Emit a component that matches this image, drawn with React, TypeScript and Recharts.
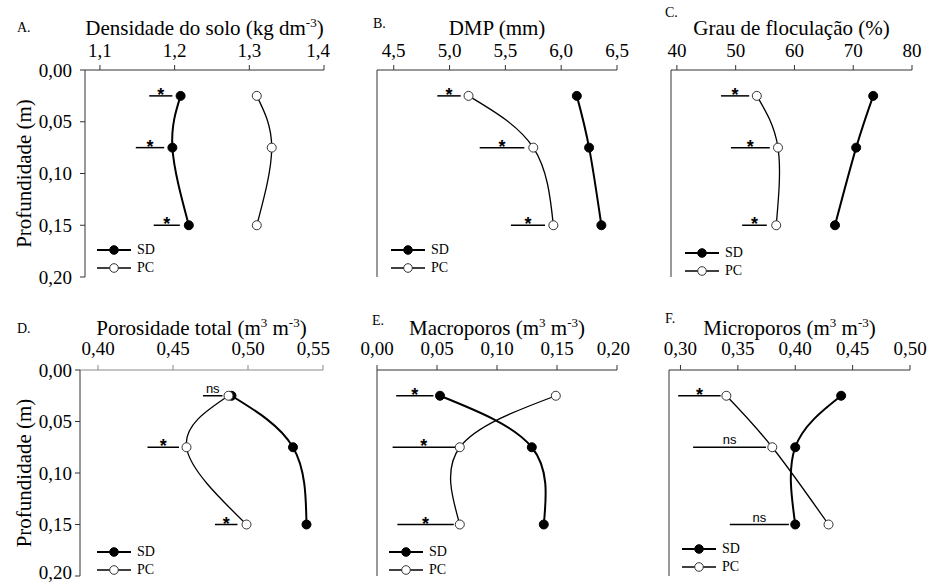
import { LineChart, Line, XAxis, YAxis, ReferenceLine, Legend } from "recharts";

const SERIF = "Liberation Serif";
const SANS = "Liberation Sans";

// profundidade (m) das camadas
const profundidades = [0.025, 0.075, 0.15];
const ticksProfundidade = [0, 0.05, 0.1, 0.15, 0.2];

// A. densidade do solo (kg dm-3)
const densidadeSD = [1.208, 1.197, 1.219];
const densidadePC = [1.31, 1.33, 1.31];
const densidadeBarras = [[1.166, 1.197], [1.148, 1.186], [1.172, 1.207]];
const densidadeSig = ["*", "*", "*"];

// B. DMP (mm)
const dmpSD = [6.14, 6.25, 6.36];
const dmpPC = [5.17, 5.75, 5.93];
const dmpBarras = [[4.89, 5.1], [5.27, 5.67], [5.55, 5.855]];
const dmpSig = ["*", "*", "*"];

// C. grau de floculação (%)
const floculacaoSD = [73.4, 70.5, 66.9];
const floculacaoPC = [53.6, 57.2, 56.9];
const floculacaoBarras = [[47.5, 52.3], [49.2, 55.8], [51.1, 55.3]];
const floculacaoSig = ["*", "*", "*"];

// D. porosidade total (m3 m-3)
const porosidadeSD = [0.489, 0.53, 0.539];
const porosidadePC = [0.487, 0.459, 0.499];
const porosidadeBarras = [[0.47, 0.483], [0.433, 0.454], [0.478, 0.493]];
const porosidadeSig = ["ns", "*", "*"];

// E. macroporos (m3 m-3)
const macroSD = [0.0525, 0.129, 0.139];
const macroPC = [0.149, 0.069, 0.069];
const macroBarras = [[0.016, 0.047], [0.013, 0.065], [0.017, 0.064]];
const macroSig = ["*", "*", "*"];

// F. microporos (m3 m-3)
const microSD = [0.44, 0.4, 0.4];
const microPC = [0.34, 0.38, 0.429];
const microBarras = [[0.298, 0.335], [0.311, 0.3745], [0.343, 0.3945]];
const microSig = ["*", "ns", "ns"];

const paineis = [
  {
    letra: "A.", titulo: [["Densidade do solo (kg dm", false], ["-3", true], [")", false]],
    sd: densidadeSD, pc: densidadePC, barras: densidadeBarras, sig: densidadeSig,
    dominio: [1.08, 1.4], ticks: [1.1, 1.2, 1.3, 1.4], casas: 1,
    left: 0, top: 0, width: 330, height: 290, eixoX: 70, eixoY: 85, right: 6, bottom: 13,
    margemY: 8, rotuloY: true, letraX: 17, letraY: 32, legX: 97, legY: 241,
  },
  {
    letra: "B.", titulo: [["DMP (mm)", false]],
    sd: dmpSD, pc: dmpPC, barras: dmpBarras, sig: dmpSig,
    dominio: [4.35, 6.5], ticks: [4.5, 5, 5.5, 6, 6.5], casas: 1,
    left: 300, top: 0, width: 330, height: 290, eixoX: 70, eixoY: 77, right: 13, bottom: 13,
    margemY: 8, rotuloY: false, letraX: 73, letraY: 28, legX: 91, legY: 241,
  },
  {
    letra: "C.", titulo: [["Grau de floculação (%)", false]],
    sd: floculacaoSD, pc: floculacaoPC, barras: floculacaoBarras, sig: floculacaoSig,
    dominio: [39, 80], ticks: [40, 50, 60, 70, 80], casas: 0,
    left: 610, top: 0, width: 319, height: 290, eixoX: 70, eixoY: 61, right: 17, bottom: 13,
    margemY: 8, rotuloY: false, letraX: 55, letraY: 17, legX: 75, legY: 244,
  },
  {
    letra: "D.", titulo: [["Porosidade total (m", false], ["3", true], [" m", false], ["-3", true], [")", false]],
    sd: porosidadeSD, pc: porosidadePC, barras: porosidadeBarras, sig: porosidadeSig,
    dominio: [0.388, 0.55], ticks: [0.4, 0.45, 0.5, 0.55], casas: 2,
    left: 0, top: 290, width: 330, height: 293, eixoX: 80, eixoY: 80, right: 7, bottom: 7,
    margemY: 3, rotuloY: true, letraX: 17, letraY: 43, legX: 97, legY: 253,
  },
  {
    letra: "E.", titulo: [["Macroporos (m", false], ["3", true], [" m", false], ["-3", true], [")", false]],
    sd: macroSD, pc: macroPC, barras: macroBarras, sig: macroSig,
    dominio: [0, 0.2], ticks: [0, 0.05, 0.1, 0.15, 0.2], casas: 2,
    left: 300, top: 290, width: 330, height: 293, eixoX: 80, eixoY: 77, right: 13, bottom: 7,
    margemY: 8, rotuloY: false, letraX: 72, letraY: 35, legX: 89, legY: 253,
  },
  {
    letra: "F.", titulo: [["Microporos (m", false], ["3", true], [" m", false], ["-3", true], [")", false]],
    sd: microSD, pc: microPC, barras: microBarras, sig: microSig,
    dominio: [0.29, 0.5], ticks: [0.3, 0.35, 0.4, 0.45, 0.5], casas: 2,
    left: 610, top: 290, width: 319, height: 293, eixoX: 80, eixoY: 59, right: 19, bottom: 7,
    margemY: 8, rotuloY: false, letraX: 55, letraY: 33, legX: 72, legY: 250,
  },
];

const virgula = (v: number, casas: number) => v.toFixed(casas).replace(".", ",");

function LegendaSeries({ payload }: any) {
  const itens = [...(payload ?? [])].sort((a: any, b: any) => (a.value === "SD" ? -1 : b.value === "SD" ? 1 : 0));
  return (
    <div style={{ fontFamily: SERIF, fontSize: 14, color: "#000" }}>
      {itens.map((item: any) => {
        const cheio = item.value === "SD";
        return (
          <div key={item.value} style={{ display: "flex", alignItems: "center", height: 18 }}>
            <svg width={34} height={12}>
              <line x1={0} y1={6} x2={34} y2={6} stroke="#000" strokeWidth={cheio ? 2 : 1.3} />
              <circle cx={17} cy={6} r={4.3} fill={cheio ? "#000" : "#fff"} stroke={cheio ? "#000" : "#333"} strokeWidth={1} />
            </svg>
            <span style={{ marginLeft: 6 }}>{item.value}</span>
          </div>
        );
      })}
    </div>
  );
}

function Painel({ cfg }: { cfg: any }) {
  const dados = profundidades.map((p, i) => ({ profundidade: p, SD: cfg.sd[i], PC: cfg.pc[i] }));

  const titulo = (props: any) => {
    const vb = props.viewBox;
    const base = vb.y + vb.height - 35;
    return (
      <g>
        <text x={cfg.letraX} y={cfg.letraY} style={{ fontFamily: SERIF, fontSize: 14 }} fill="#000">
          {cfg.letra}
        </text>
        <text x={vb.x + vb.width / 2} y={base} textAnchor="middle" style={{ fontFamily: SERIF, fontSize: 21 }} fill="#000">
          {cfg.titulo.map(([t, sup]: [string, boolean], i: number) => {
            const anterior = i > 0 && cfg.titulo[i - 1][1];
            const dy = sup ? -8 : anterior ? 8 : 0;
            return (
              <tspan key={i} dy={dy} style={{ fontSize: sup ? 13 : 21 }}>
                {t}
              </tspan>
            );
          })}
        </text>
      </g>
    );
  };

  const rotuloY = (props: any) => {
    const vb = props.viewBox;
    const cy = vb.y + vb.height / 2;
    return (
      <text x={31} y={cy} transform={`rotate(-90 31 ${cy})`} textAnchor="middle" style={{ fontFamily: SERIF, fontSize: 21 }} fill="#000">
        Profundidade (m)
      </text>
    );
  };

  const estiloTick = { fill: "#000", fontSize: 19, style: { fontFamily: SERIF } };

  return (
    <div style={{ position: "absolute", left: cfg.left, top: cfg.top, fontFamily: SERIF }}>
      <LineChart
        width={cfg.width}
        height={cfg.height}
        data={dados}
        layout="vertical"
        margin={{ top: 0, left: 0, right: cfg.right, bottom: cfg.bottom }}
      >
        <XAxis
          type="number"
          orientation="top"
          domain={cfg.dominio}
          ticks={cfg.ticks}
          allowDataOverflow
          height={cfg.eixoX}
          tickSize={5}
          tickMargin={cfg.top === 0 ? 8 : 10}
          stroke={cfg.letra === "D." ? "#8a8a8a" : "#333"}
          tick={estiloTick}
          tickFormatter={(v: number) => virgula(v, cfg.casas)}
          label={titulo}
        />
        <YAxis
          type="number"
          dataKey="profundidade"
          domain={[0, 0.2]}
          ticks={ticksProfundidade}
          allowDataOverflow
          width={cfg.eixoY}
          tickSize={5}
          tickMargin={cfg.margemY}
          stroke="#333"
          tick={cfg.rotuloY ? estiloTick : false}
          tickFormatter={(v: number) => virgula(v, 2)}
          label={cfg.rotuloY ? rotuloY : undefined}
        />
        {cfg.barras.map(([a, b]: number[], i: number) => (
          <ReferenceLine
            key={i}
            segment={[{ x: a, y: profundidades[i] }, { x: b, y: profundidades[i] }]}
            stroke="#000"
            strokeWidth={1.5}
            ifOverflow="visible"
            label={(props: any) => {
              const vb = props.viewBox;
              const cx = vb.x + vb.width / 2;
              const estrela = cfg.sig[i] === "*";
              return (
                <text
                  x={cx}
                  y={vb.y + (estrela ? 5 : -3)}
                  textAnchor="middle"
                  style={{ fontFamily: SANS, fontSize: estrela ? 18 : 13, fontWeight: estrela ? "bold" : "normal" }}
                  fill="#000"
                >
                  {cfg.sig[i]}
                </text>
              );
            }}
          />
        ))}
        <Line
          dataKey="SD"
          name="SD"
          type="natural"
          stroke="#000"
          strokeWidth={2}
          dot={{ r: 4.5, fill: "#000", stroke: "#000", strokeWidth: 1 }}
          isAnimationActive={false}
        />
        <Line
          dataKey="PC"
          name="PC"
          type="natural"
          stroke="#000"
          strokeWidth={1.3}
          dot={{ r: 4.5, fill: "#fff", stroke: "#333", strokeWidth: 1 }}
          isAnimationActive={false}
        />
        <Legend
          layout="horizontal"
          verticalAlign="middle"
          align="center"
          content={<LegendaSeries />}
          wrapperStyle={{ left: cfg.legX, top: cfg.legY, width: "auto", height: "auto" }}
        />
      </LineChart>
    </div>
  );
}

export default function App() {
  return (
    <div style={{ position: "absolute", left: 0, top: 0, width: 929, height: 583, background: "#fff" }}>
      {paineis.map((cfg) => (
        <Painel key={cfg.letra} cfg={cfg} />
      ))}
    </div>
  );
}
